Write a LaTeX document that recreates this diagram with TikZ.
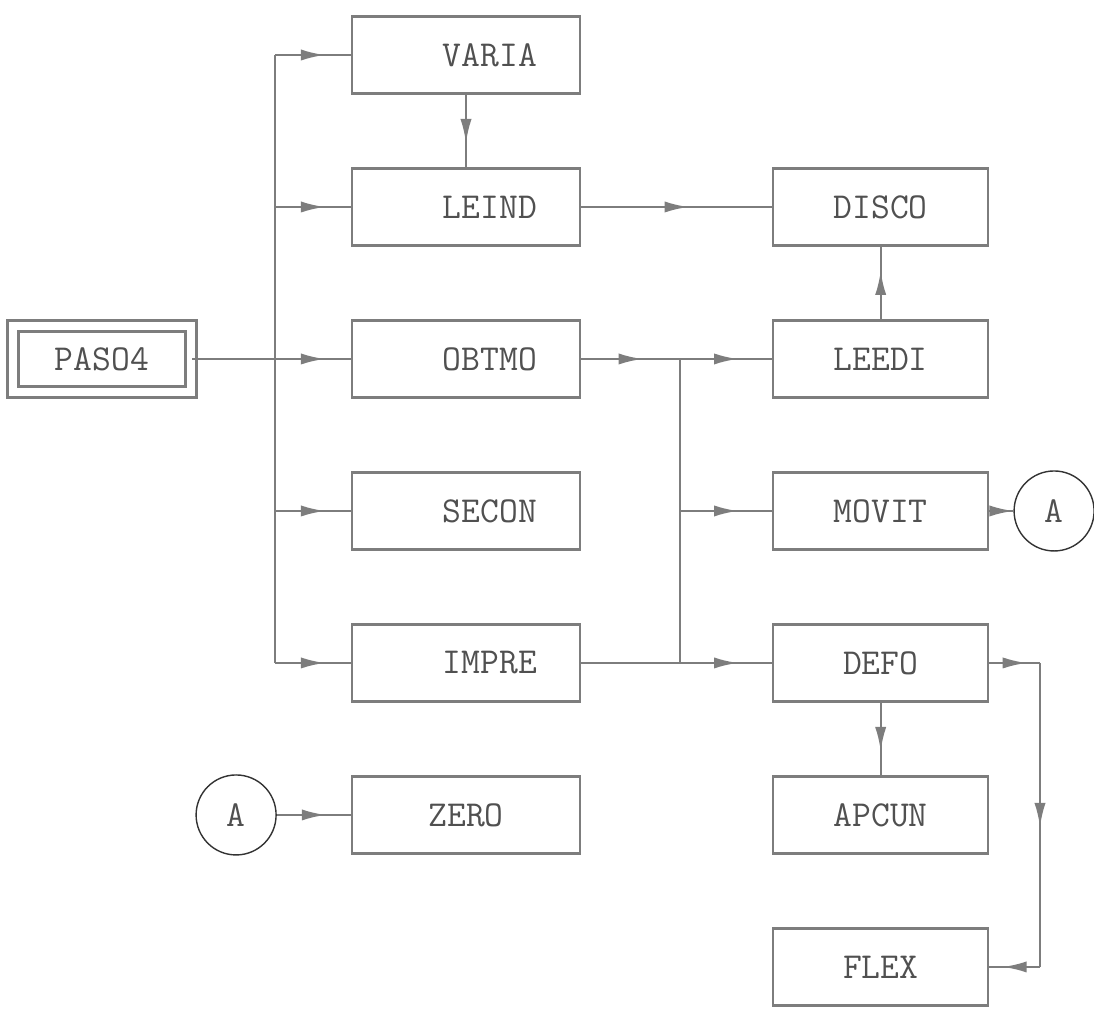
\documentclass[tikz,border=0pt]{standalone}
\usepackage{tikz}
\usetikzlibrary{arrows.meta,positioning,decorations.markings}
\definecolor{inkgray}{RGB}{125,125,125}
\definecolor{textgray}{RGB}{80,80,80}
\tikzset{
  box/.style={rectangle, draw=inkgray, line width=1.7pt, minimum width=5.7cm, minimum height=1.925cm, font=\fontsize{26}{30}\selectfont\ttfamily, text=textgray},
  modbox/.style={box},
  subbox/.style={box, minimum width=5.375cm},
  mainbox/.style={box, double, double distance=6pt, minimum width=4.45cm, minimum height=1.65cm},
  conn/.style={circle, draw=black!80, line width=1pt, minimum size=2cm, inner sep=0pt, font=\fontsize{26}{30}\selectfont\ttfamily, text=textgray},
  line/.style={draw=inkgray, line width=1.7pt},
  midarrow/.style={line, postaction={decorate}, decoration={markings, mark=at position 0.5 with {\arrow[xshift=0.3cm]{Latex[length=0.6cm,width=0.28cm]}}}},
}

\begin{document}
\begin{tikzpicture}
  \useasboundingbox (0,0) rectangle (27.35,-25.9);

  % First level
  \node[modbox] (varia) at (11.65,-1.375) {\hspace*{1.2cm}VARIA};
  \node[modbox, below=1.815cm of varia] (leind) {\hspace*{1.2cm}LEIND};
  \node[modbox, below=1.815cm of leind] (obtmo) {\hspace*{1.2cm}OBTMO};
  \node[modbox, below=1.815cm of obtmo] (secon) {\hspace*{1.2cm}SECON};
  \node[modbox, below=1.815cm of secon] (impre) {\hspace*{1.2cm}IMPRE};
  \node[modbox, below=1.815cm of impre] (zero) {ZERO};

  % Main routine
  \node[mainbox] (paso4) at (2.55,0 |- obtmo) {PASO4};

  % Second level
  \node[subbox, right=4.77cm of leind] (disco) {DISCO};
  \node[subbox, below=1.815cm of disco] (leedi) {LEEDI};
  \node[subbox, below=1.815cm of leedi] (movit) {MOVIT};
  \node[subbox, below=1.815cm of movit] (defo) {DEFO};
  \node[subbox, below=1.815cm of defo] (apcun) {APCUN};
  \node[subbox, below=1.815cm of apcun] (flex) {FLEX};

  % Connectors A
  \node[conn, left=1.85cm of zero] (aleft) {A};
  \node[conn, right=0.6cm of movit] (aright) {A};

  % Junction lines
  \coordinate (trunk) at (6.875,0);
  \coordinate (split) at (17,0);
  \coordinate (loop) at (26,0);

  % Arrows
  \draw[line] (paso4.east) -- (obtmo.west -| trunk);
  \draw[line] (varia.west -| trunk) -- (impre.west -| trunk);
  \foreach \n in {varia,leind,obtmo,secon,impre}
    \draw[midarrow] (\n.west -| trunk) -- (\n.west);
  \draw[midarrow] (varia) -- (leind);
  \draw[midarrow] (leind) -- (disco);
  \draw[midarrow] (leedi) -- (disco);

  \draw[midarrow] (obtmo.east) -- (obtmo.east -| split);
  \draw[midarrow] (obtmo.east -| split) -- (leedi.west);
  \draw[line] (obtmo.east -| split) -- (impre.east -| split);
  \draw[midarrow] (movit.west -| split) -- (movit.west);
  \draw[line] (impre.east) -- (impre.east -| split);
  \draw[midarrow] (impre.east -| split) -- (defo.west);

  \draw[midarrow] (movit) -- (aright);
  \draw[midarrow] (defo) -- (apcun);
  \draw[midarrow] (defo.east) -- (defo.east -| loop);
  \draw[midarrow] (defo.east -| loop) -- (flex.east -| loop);
  \draw[midarrow] (flex.east -| loop) -- (flex.east);

  \draw[midarrow] (aleft) -- (zero);

\end{tikzpicture}
\end{document}
